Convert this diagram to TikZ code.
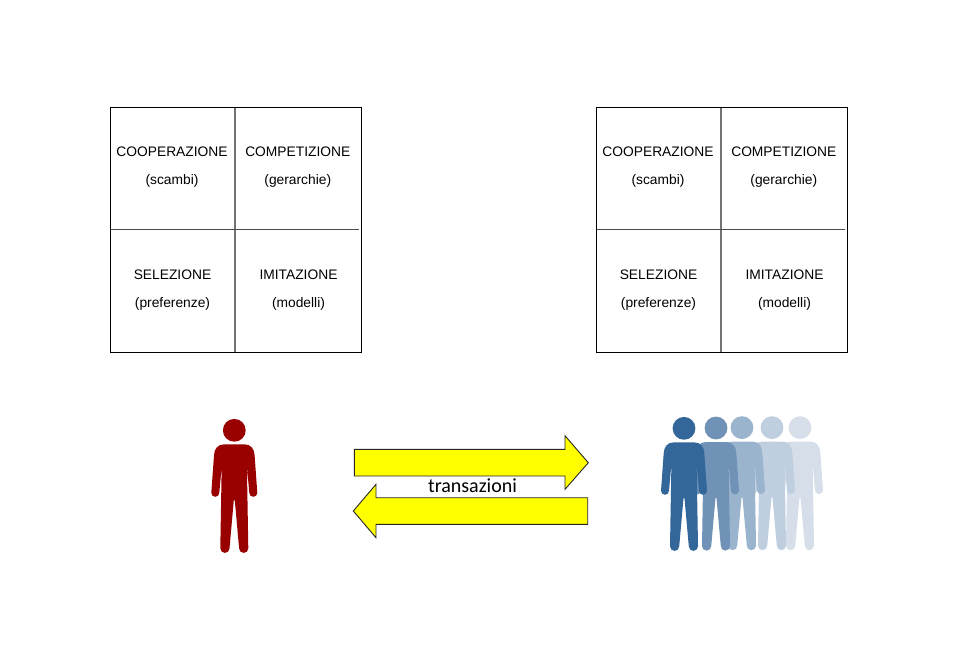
\documentclass[tikz,border=0pt]{standalone}
\usepackage{fontspec}
\setmainfont{Liberation Sans}
\newfontfamily\calibrifont{Carlito}
\definecolor{rosso}{HTML}{990000}
\definecolor{giallo}{RGB}{255,255,0}
\definecolor{bluA}{HTML}{336699}
\definecolor{bluB}{HTML}{6F92B6}
\definecolor{bluC}{HTML}{9BB4CE}
\definecolor{bluD}{HTML}{BFCFE0}
\definecolor{bluE}{HTML}{D5DEE9}
\tikzset{
	cella/.style={align=center,inner sep=0pt,font=\fontsize{13.8}{14}\selectfont},
	griglia/.style={draw=black!55,line width=1.4pt},
	freccia/.style={draw=black!85,fill=giallo,line width=0.9pt,line join=miter},
	persona/.pic={
		\fill[pic actions] (0,0) circle [radius=11.4];
		\fill[pic actions] (-10,14) -- (10,14) .. controls (17,14) and (20,19) .. (20.3,25)
			-- (23,62.5) arc [start angle=0,end angle=180,radius=4] -- (12.6,36)
			-- (14,118) arc [start angle=0,end angle=180,radius=4.6] -- (0.5,70) -- (-0.5,70)
			-- (-4.8,118) arc [start angle=0,end angle=180,radius=4.6] -- (-12.6,36)
			-- (-15,62.5) arc [start angle=0,end angle=180,radius=4]
			-- (-20.3,25) .. controls (-20,19) and (-17,14) .. (-10,14) -- cycle;
	},
	tabella/.pic={
		\draw[griglia] (124.3,-0.5) -- (124.3,244.5);
		\draw[griglia,draw=black!70,line width=0.9pt] (0,122) -- (248.5,122);
		\draw[black,line width=0.9pt] (0,0) rectangle (251,244.5);
		\node[cella] (-coop) at (61.5,60) {COOPERAZIONE\\[14pt](scambi)};
		\node[cella] (-comp) at (187.3,60) {COMPETIZIONE\\[14pt](gerarchie)};
		\node[cella] (-sel) at (62,183) {SELEZIONE\\[14pt](preferenze)};
		\node[cella] (-imit) at (188,183) {IMITAZIONE\\[14pt](modelli)};
	}
}
\begin{document}
\begin{tikzpicture}[x=1pt,y=-1pt]
	\useasboundingbox (0,0) rectangle (960,649);
	% le due tabelle
	\pic (sx) at (110.5,107.5) {tabella};
	\pic (dx) at (596.5,107.5) {tabella};
	% frecce
	\draw[freccia] (354.3,449.3) -- (565,449.3) -- (565,435.7) -- (588.3,462.7) -- (565,489.3) -- (565,476) -- (354.3,476) -- cycle;
	\draw[freccia] (587.7,497.7) -- (376,497.7) -- (376,484.3) -- (353.3,511) -- (376,537.7) -- (376,524.3) -- (587.7,524.3) -- cycle;
	\node[inner sep=0pt,font=\calibrifont\fontsize{20}{20}\selectfont] (transazioni) at (472.5,486) {transazioni};
	% persone
	\pic[fill=rosso] (singolo) at (234.3,430.3) {persona};
	\foreach \px/\py/\col in {800/427.6/bluE,772/427.6/bluD,742/427.6/bluC,716/428/bluB,684/428.3/bluA}
		\pic[fill=\col] at (\px,\py) {persona};
\end{tikzpicture}
\end{document}
